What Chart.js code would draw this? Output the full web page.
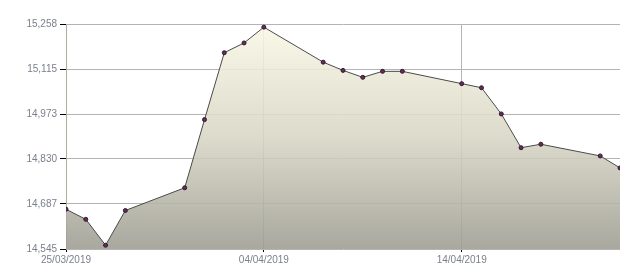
<!DOCTYPE html>
<html>
<head>
<meta charset="utf-8">
<script src="https://cdn.jsdelivr.net/npm/chart.js@4"></script>
<style>
html,body{margin:0;padding:0;background:#fff;}
#wrap{width:640px;height:280px;position:relative;}
</style>
</head>
<body>
<div id="wrap"><canvas id="c" width="640" height="280"></canvas></div>
<script>
const dates = ['25/03/2019','26/03/2019','27/03/2019','28/03/2019','31/03/2019','01/04/2019','02/04/2019','03/04/2019','04/04/2019','07/04/2019','08/04/2019','09/04/2019','10/04/2019','11/04/2019','14/04/2019','15/04/2019','16/04/2019','17/04/2019','18/04/2019','21/04/2019','22/04/2019'];
const values = [14671,14639,14557,14667,14739,14955,15167,15198,15248,15137,15111,15089,15108,15108,15069,15056,14973,14866,14877,14840,14802];
const yTickValues = [14545,14687.6,14830.2,14972.8,15115.4,15258];
const yTickLabels = ['14,545','14,687','14,830','14,973','15,115','15,258'];
const xTickLabels = ['25/03/2019','04/04/2019','14/04/2019'];

const DAY = 86400000;
function parseD(s){const p=s.split('/');return Date.UTC(+p[2],+p[1]-1,+p[0]);}
const t0 = parseD(dates[0]);
const dayOf = s => Math.round((parseD(s)-t0)/DAY);
const pts = dates.map((d,i)=>({x:dayOf(d), y:values[i]}));
const xTickVals = xTickLabels.map(dayOf);

const ctx = document.getElementById('c').getContext('2d');
const chart = new Chart(ctx,{
  type:'line',
  data:{datasets:[{
    data:pts,
    borderColor:'#4a4a4a',
    borderWidth:1,
    tension:0,
    fill:'start',
    backgroundColor:function(c){
      const a=c.chart.chartArea; if(!a) return 'rgba(216,214,197,0.88)';
      const g=c.chart.ctx.createLinearGradient(0,a.top,0,a.bottom);
      g.addColorStop(0,'rgba(250,248,229,0.88)');
      g.addColorStop(0.5,'rgba(216,214,197,0.88)');
      g.addColorStop(1,'rgba(157,156,145,0.88)');
      return g;
    },
    pointRadius:2,
    pointBackgroundColor:'#6a2a5a',
    pointBorderColor:'#2a1a2a',
    pointBorderWidth:1
  }]},
  options:{
    responsive:false,
    animation:false,
    layout:{padding:{left:0,right:20,top:24,bottom:0}},
    plugins:{legend:{display:false},tooltip:{enabled:false}},
    scales:{
      x:{
        type:'linear',
        min:0,max:dayOf(dates[dates.length-1]),
        afterBuildTicks:s=>{s.ticks=xTickVals.map(v=>({value:v}));},
        afterFit:s=>{s.height=31;},
        border:{display:false},
        grid:{color:c=>c.index===0?'rgba(0,0,0,0)':'#b4b4b4',lineWidth:1,drawTicks:true,tickLength:3,tickColor:'#000'},
        ticks:{autoSkip:false,maxRotation:0,padding:2,color:'#7a7f8a',font:{family:'Liberation Sans, Arial',size:10},
          callback:(v,i)=>xTickLabels[i]}
      },
      y:{
        min:yTickValues[0],max:yTickValues[yTickValues.length-1],
        afterBuildTicks:s=>{s.ticks=yTickValues.map(v=>({value:v}));},
        afterFit:s=>{s.width=66;},
        border:{display:true,color:'#aeac9c',width:1},
        grid:{color:'#b4b4b4',lineWidth:1,drawTicks:true,tickLength:6,tickColor:'#000'},
        ticks:{autoSkip:false,padding:3,color:'#7a7f8a',font:{family:'Liberation Sans, Arial',size:10},
          callback:(v,i)=>yTickLabels[i]}
      }
    }
  }
});
</script>
</body>
</html>
